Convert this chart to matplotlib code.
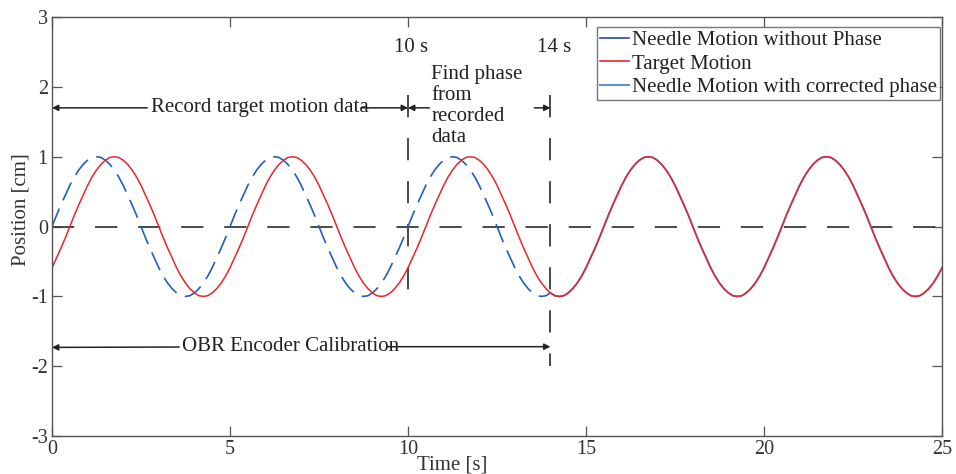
import numpy as np
import matplotlib
matplotlib.use("Agg")
import matplotlib.pyplot as plt
from matplotlib.lines import Line2D

plt.rcParams['font.family'] = ['Liberation Serif', 'DejaVu Serif']
plt.rcParams['axes.unicode_minus'] = False
plt.rcParams['lines.scale_dashes'] = False

# samples every 0.125 s (position in cm)
t_step = 0.125
target = [
    -0.59, -0.45, -0.31, -0.16, 0.00, 0.16, 0.31, 0.45, 0.59, 0.71, 0.81, 0.89, 0.95, 0.99, 1.00, 0.99, 0.95, 0.89, 0.81, 0.71,
    0.59, 0.45, 0.31, 0.16, 0.00, -0.16, -0.31, -0.45, -0.59, -0.71, -0.81, -0.89, -0.95, -0.99, -1.00, -0.99, -0.95, -0.89, -0.81, -0.71,
    -0.59, -0.45, -0.31, -0.16, 0.00, 0.16, 0.31, 0.45, 0.59, 0.71, 0.81, 0.89, 0.95, 0.99, 1.00, 0.99, 0.95, 0.89, 0.81, 0.71,
    0.59, 0.45, 0.31, 0.16, 0.00, -0.16, -0.31, -0.45, -0.59, -0.71, -0.81, -0.89, -0.95, -0.99, -1.00, -0.99, -0.95, -0.89, -0.81, -0.71,
    -0.59, -0.45, -0.31, -0.16, 0.00, 0.16, 0.31, 0.45, 0.59, 0.71, 0.81, 0.89, 0.95, 0.99, 1.00, 0.99, 0.95, 0.89, 0.81, 0.71,
    0.59, 0.45, 0.31, 0.16, 0.00, -0.16, -0.31, -0.45, -0.59, -0.71, -0.81, -0.89, -0.95, -0.99, -1.00, -0.99, -0.95, -0.89, -0.81, -0.71,
    -0.59, -0.45, -0.31, -0.16, 0.00, 0.16, 0.31, 0.45, 0.59, 0.71, 0.81, 0.89, 0.95, 0.99, 1.00, 0.99, 0.95, 0.89, 0.81, 0.71,
    0.59, 0.45, 0.31, 0.16, 0.00, -0.16, -0.31, -0.45, -0.59, -0.71, -0.81, -0.89, -0.95, -0.99, -1.00, -0.99, -0.95, -0.89, -0.81, -0.71,
    -0.59, -0.45, -0.31, -0.16, 0.00, 0.16, 0.31, 0.45, 0.59, 0.71, 0.81, 0.89, 0.95, 0.99, 1.00, 0.99, 0.95, 0.89, 0.81, 0.71,
    0.59, 0.45, 0.31, 0.16, 0.00, -0.16, -0.31, -0.45, -0.59, -0.71, -0.81, -0.89, -0.95, -0.99, -1.00, -0.99, -0.95, -0.89, -0.81, -0.71,
    -0.59]
needle_no_phase = [
    0.00, 0.16, 0.31, 0.45, 0.59, 0.71, 0.81, 0.89, 0.95, 0.99, 1.00, 0.99, 0.95, 0.89, 0.81, 0.71, 0.59, 0.45, 0.31, 0.16,
    0.00, -0.16, -0.31, -0.45, -0.59, -0.71, -0.81, -0.89, -0.95, -0.99, -1.00, -0.99, -0.95, -0.89, -0.81, -0.71, -0.59, -0.45, -0.31, -0.16,
    0.00, 0.16, 0.31, 0.45, 0.59, 0.71, 0.81, 0.89, 0.95, 0.99, 1.00, 0.99, 0.95, 0.89, 0.81, 0.71, 0.59, 0.45, 0.31, 0.16,
    0.00, -0.16, -0.31, -0.45, -0.59, -0.71, -0.81, -0.89, -0.95, -0.99, -1.00, -0.99, -0.95, -0.89, -0.81, -0.71, -0.59, -0.45, -0.31, -0.16,
    0.00, 0.16, 0.31, 0.45, 0.59, 0.71, 0.81, 0.89, 0.95, 0.99, 1.00, 0.99, 0.95, 0.89, 0.81, 0.71, 0.59, 0.45, 0.31, 0.16,
    0.00, -0.16, -0.31, -0.45, -0.59, -0.71, -0.81, -0.89, -0.95, -0.99, -1.00, -0.99, -0.95]
# after 14 s the needle follows the target (same values)
t_switch = 14
needle_corrected = target[int(t_switch / t_step):]

t_target = np.arange(len(target)) * t_step
t_needle = np.arange(len(needle_no_phase)) * t_step
t_corr = t_switch + np.arange(len(needle_corrected)) * t_step

legend_labels = ['Needle Motion without Phase', 'Target Motion',
                 'Needle Motion with corrected phase']

c_red = '#e8262c'
c_blue = '#2060b8'
c_blue_dark = '#1f4f9f'
c_blue_light = '#5a8ccc'
c_gray = '#3a3a3a'
c_text = '#222222'

fig = plt.figure(figsize=(9.56, 4.74), dpi=100)
ax = fig.add_axes([0.0544, 0.080, 0.931, 0.884])

ax.plot([0, 25], [0, 0], color=c_gray, lw=1.3, dashes=(16, 15))
ax.plot([10, 10], [1.88, -0.98], color=c_gray, lw=1.3, dashes=(16, 15))
ax.plot([14, 14], [1.88, -2.0], color=c_gray, lw=1.3, dashes=(16, 15))

ax.plot(t_needle, needle_no_phase, color=c_blue, lw=1.2, dashes=(14, 6.5))
ax.plot(t_corr, needle_corrected, color=c_blue_light, lw=1.4)
ax.plot(t_target, target, color=c_red, lw=1.1)

fs = 15
# annotations
arrow = dict(arrowstyle='-|>', color=c_text, lw=1.1, mutation_scale=9,
             shrinkA=0, shrinkB=0)
ax.annotate('Record target motion data', xy=(0, 1.7), xytext=(5.85, 1.7),
            ha='center', va='center', fontsize=fs, color=c_text,
            arrowprops=dict(arrow, shrinkA=1))
ax.annotate('', xy=(10, 1.7), xytext=(8.7, 1.7), arrowprops=arrow)
ax.annotate('', xy=(10, 1.7), xytext=(10.6, 1.7), arrowprops=arrow)
ax.annotate('', xy=(14, 1.7), xytext=(13.55, 1.7), arrowprops=arrow)
ax.text(10.65, 2.31, 'Find phase\nfrom\nrecorded\ndata', ha='left', va='top',
        fontsize=fs, color=c_text, linespacing=1.14)
ax.text(9.6, 2.56, '10 s', ha='left', va='center', fontsize=fs, color=c_text)
ax.text(13.62, 2.56, '14 s', ha='left', va='center', fontsize=fs, color=c_text)
ax.annotate('OBR Encoder Calibration', xy=(0, -1.73), xytext=(6.7, -1.72),
            ha='center', va='center', fontsize=fs, color=c_text,
            arrowprops=dict(arrow, shrinkA=0))
ax.annotate('', xy=(14, -1.72), xytext=(9.4, -1.72), arrowprops=arrow)

ax.set_xlim(0, 25)
ax.set_ylim(-3, 3)
ax.set_xticks([0, 5, 10, 15, 20, 25])
ax.set_yticks([-3, -2, -1, 0, 1, 2, 3])
ax.tick_params(direction='in', top=True, right=True, length=7, width=0.9,
               labelsize=14.5, colors='#555555', labelcolor='#333333')
ax.tick_params(axis='x', pad=3)
ax.tick_params(axis='y', pad=3)
for s in ax.spines.values():
    s.set_color('#555555')
    s.set_linewidth(1.0)

ax.set_xlabel('Time [s]', fontsize=fs, color='#333333', labelpad=0)
ax.xaxis.set_label_coords(0.45, -0.047)
ax.set_ylabel('Position [cm]', fontsize=fs, color='#333333', labelpad=0)
ax.yaxis.set_label_coords(-0.024, 0.54)

handles = [Line2D([], [], color=c_blue_dark, lw=1.2),
           Line2D([], [], color=c_red, lw=1.2),
           Line2D([], [], color=c_blue_light, lw=1.4)]
leg = ax.legend(handles, legend_labels, loc='upper right',
                bbox_to_anchor=(0.998, 0.976), fontsize=fs, frameon=True,
                fancybox=False, edgecolor='#555555', handlelength=1.4,
                handletextpad=0.15, borderpad=0.15, labelspacing=0.2,
                borderaxespad=0.0)
leg.get_frame().set_linewidth(1.0)
for txt in leg.get_texts():
    txt.set_color(c_text)

fig.savefig('out.png', dpi=100)
